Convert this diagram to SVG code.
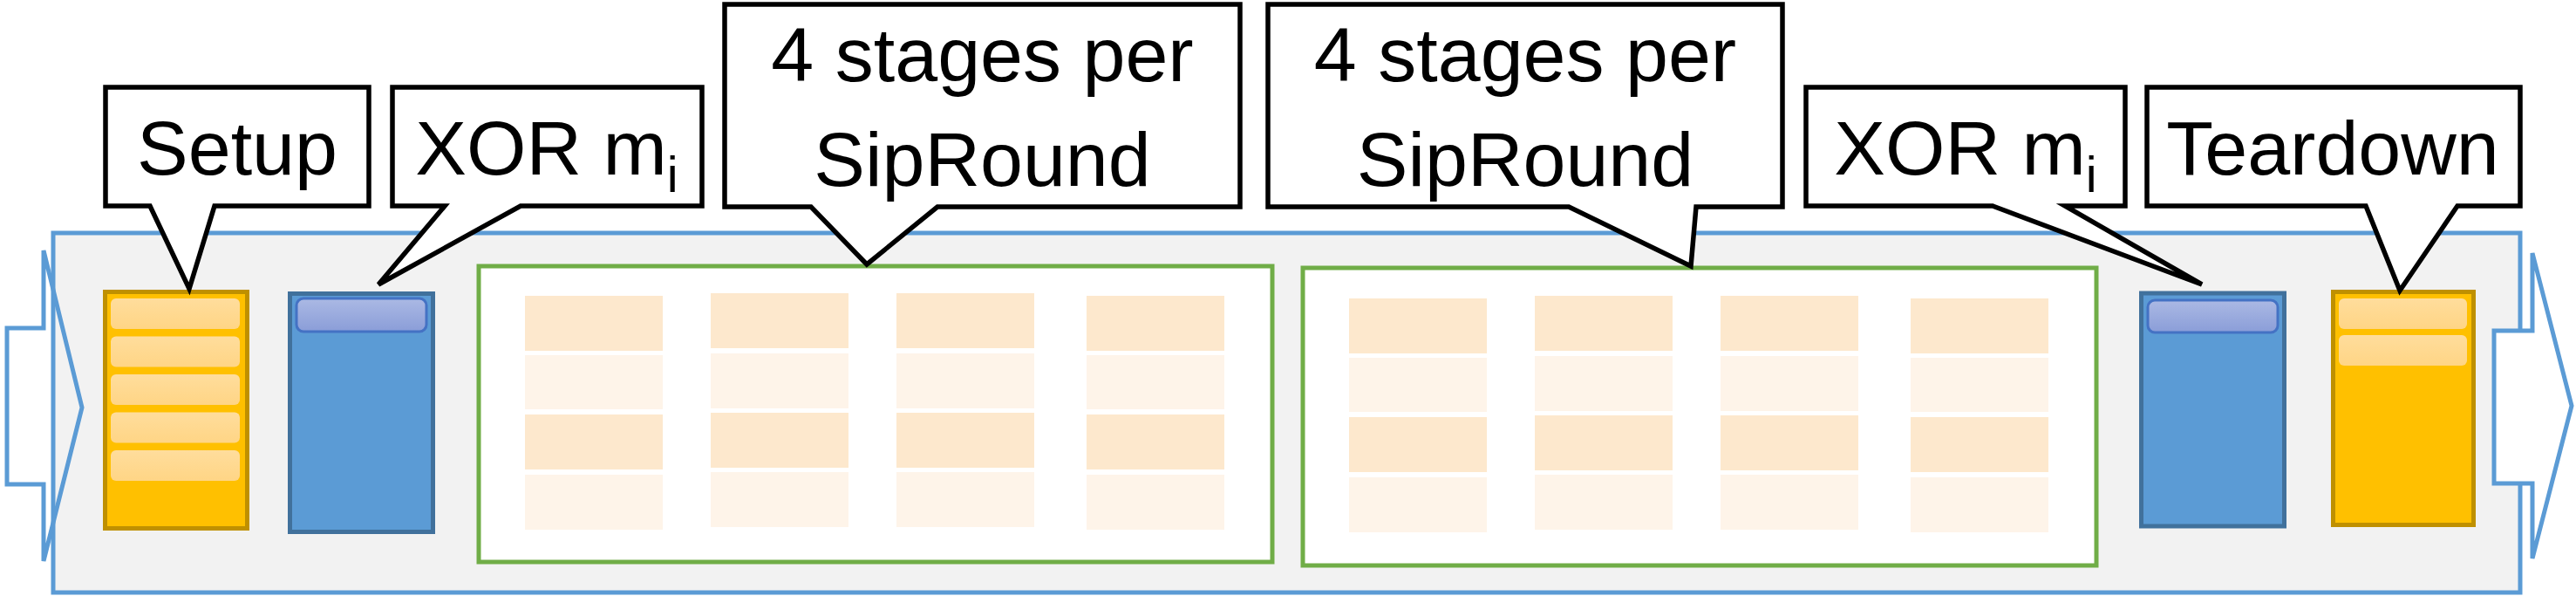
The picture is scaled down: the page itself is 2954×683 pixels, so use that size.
<svg xmlns="http://www.w3.org/2000/svg" width="2954" height="683" viewBox="0 0 2954 683">
<defs>
<linearGradient id="gBlueBar" x1="0" y1="0" x2="0" y2="1">
<stop offset="0" stop-color="#abb9e4"/>
<stop offset="1" stop-color="#8a9dd8"/>
</linearGradient>
<linearGradient id="gGoldBar" x1="0" y1="0" x2="0" y2="1">
<stop offset="0" stop-color="#ffdd9c"/>
<stop offset="1" stop-color="#ffd585"/>
</linearGradient>
<style>
.outer{fill:#f2f2f2;stroke:#5b9bd5;stroke-width:5}
.arrow{stroke:#5b9bd5;stroke-width:5}
.green{fill:#ffffff;stroke:#70ad47;stroke-width:5}
.tD{fill:#fde8cd}
.tL{fill:#fef4e9}
.gold{fill:#ffc000;stroke:#bf9000;stroke-width:5}
.goldbar{fill:url(#gGoldBar)}
.blue{fill:#5b9bd5;stroke:#41719c;stroke-width:5}
.bluebar{fill:url(#gBlueBar);stroke:#4472c4;stroke-width:3}
.callout{fill:#ffffff;stroke:#000000;stroke-width:5.5}
.lbl{font-family:"Liberation Sans",Arial,sans-serif;font-size:88px;fill:#000000;text-anchor:middle}
</style>
</defs>

<g id="pipeline">
<rect class="outer" x="61" y="267" width="2829" height="412"/>
</g>

<g id="connectors">
<path class="arrow" fill="none" d="M8,376 H50 V287 L94,467 L50,643 V555 H8 Z"/>
<path class="arrow" fill="#ffffff" d="M2860,379 H2904 V290 L2949,465 L2904,640 V554 H2860 Z"/>
</g>

<g id="siprounds1">
<rect class="green" x="549" y="305" width="910" height="339"/>
<rect class="tD" x="602" y="339" width="158" height="63"/>
<rect class="tL" x="602" y="407" width="158" height="62"/>
<rect class="tD" x="602" y="475" width="158" height="63"/>
<rect class="tL" x="602" y="544" width="158" height="63"/>
<rect class="tD" x="815" y="336" width="158" height="63"/>
<rect class="tL" x="815" y="405" width="158" height="63"/>
<rect class="tD" x="815" y="473" width="158" height="63"/>
<rect class="tL" x="815" y="541" width="158" height="63"/>
<rect class="tD" x="1028" y="336" width="158" height="63"/>
<rect class="tL" x="1028" y="405" width="158" height="63"/>
<rect class="tD" x="1028" y="473" width="158" height="63"/>
<rect class="tL" x="1028" y="541" width="158" height="63"/>
<rect class="tD" x="1246" y="339" width="158" height="63"/>
<rect class="tL" x="1246" y="407" width="158" height="62"/>
<rect class="tD" x="1246" y="475" width="158" height="63"/>
<rect class="tL" x="1246" y="544" width="158" height="63"/>
</g>

<g id="siprounds2">
<rect class="green" x="1494" y="307" width="910" height="341"/>
<rect class="tD" x="1547" y="342" width="158" height="63"/>
<rect class="tL" x="1547" y="410" width="158" height="62"/>
<rect class="tD" x="1547" y="478" width="158" height="63"/>
<rect class="tL" x="1547" y="547" width="158" height="63"/>
<rect class="tD" x="1760" y="339" width="158" height="63"/>
<rect class="tL" x="1760" y="408" width="158" height="63"/>
<rect class="tD" x="1760" y="476" width="158" height="63"/>
<rect class="tL" x="1760" y="544" width="158" height="63"/>
<rect class="tD" x="1973" y="339" width="158" height="63"/>
<rect class="tL" x="1973" y="408" width="158" height="63"/>
<rect class="tD" x="1973" y="476" width="158" height="63"/>
<rect class="tL" x="1973" y="544" width="158" height="63"/>
<rect class="tD" x="2191" y="342" width="158" height="63"/>
<rect class="tL" x="2191" y="410" width="158" height="62"/>
<rect class="tD" x="2191" y="478" width="158" height="63"/>
<rect class="tL" x="2191" y="547" width="158" height="63"/>
</g>

<g id="setup-block">
<rect class="gold" x="120.5" y="334.5" width="163" height="271"/>
<rect class="goldbar" x="127" y="342" width="148" height="35" rx="6"/>
<rect class="goldbar" x="127" y="385.5" width="148" height="35" rx="6"/>
<rect class="goldbar" x="127" y="429" width="148" height="35" rx="6"/>
<rect class="goldbar" x="127" y="472.5" width="148" height="35" rx="6"/>
<rect class="goldbar" x="127" y="516" width="148" height="35" rx="6"/>
</g>

<g id="xor-block1">
<rect class="blue" x="332.5" y="336.5" width="164" height="273"/>
<rect class="bluebar" x="340" y="342" width="149" height="38" rx="8"/>
</g>

<g id="xor-block2">
<rect class="blue" x="2455.5" y="336" width="164" height="267"/>
<rect class="bluebar" x="2463" y="344" width="149" height="37" rx="8"/>
</g>

<g id="teardown-block">
<rect class="gold" x="2675.5" y="334.5" width="161" height="267"/>
<rect class="goldbar" x="2682" y="342" width="147" height="35" rx="6"/>
<rect class="goldbar" x="2682" y="384" width="147" height="35" rx="6"/>
</g>

<g id="callout-setup">
<path class="callout" d="M121,100 H423 V236 H246 L217,331 L172,236 H121 Z"/>
<text class="lbl" x="272" y="200">Setup</text>
</g>

<g id="callout-xor1">
<path class="callout" d="M450,100 H805 V236 H597 L434,326 L510,236 H450 Z"/>
<text class="lbl" x="627" y="200">XOR m<tspan font-size="58" dy="20">i</tspan></text>
</g>

<g id="callout-sipround1">
<path class="callout" d="M831,5 H1422 V237 H1075 L994,303 L930,237 H831 Z"/>
<text class="lbl" x="1126.5" y="93">4 stages per</text>
<text class="lbl" x="1126.5" y="213">SipRound</text>
</g>

<g id="callout-sipround2">
<path class="callout" d="M1454,5 H2044 V237 H1945 L1939,305 L1799,237 H1454 Z"/>
<text class="lbl" x="1749" y="93">4 stages per</text>
<text class="lbl" x="1749" y="213">SipRound</text>
</g>

<g id="callout-xor2">
<path class="callout" d="M2071,100 H2437 V236 H2368 L2525,326 L2285,236 H2071 Z"/>
<text class="lbl" x="2254" y="200">XOR m<tspan font-size="58" dy="20">i</tspan></text>
</g>

<g id="callout-teardown">
<path class="callout" d="M2462,100 H2890 V236 H2818 L2752,333 L2713,236 H2462 Z"/>
<text class="lbl" x="2675" y="200">Teardown</text>
</g>
</svg>
